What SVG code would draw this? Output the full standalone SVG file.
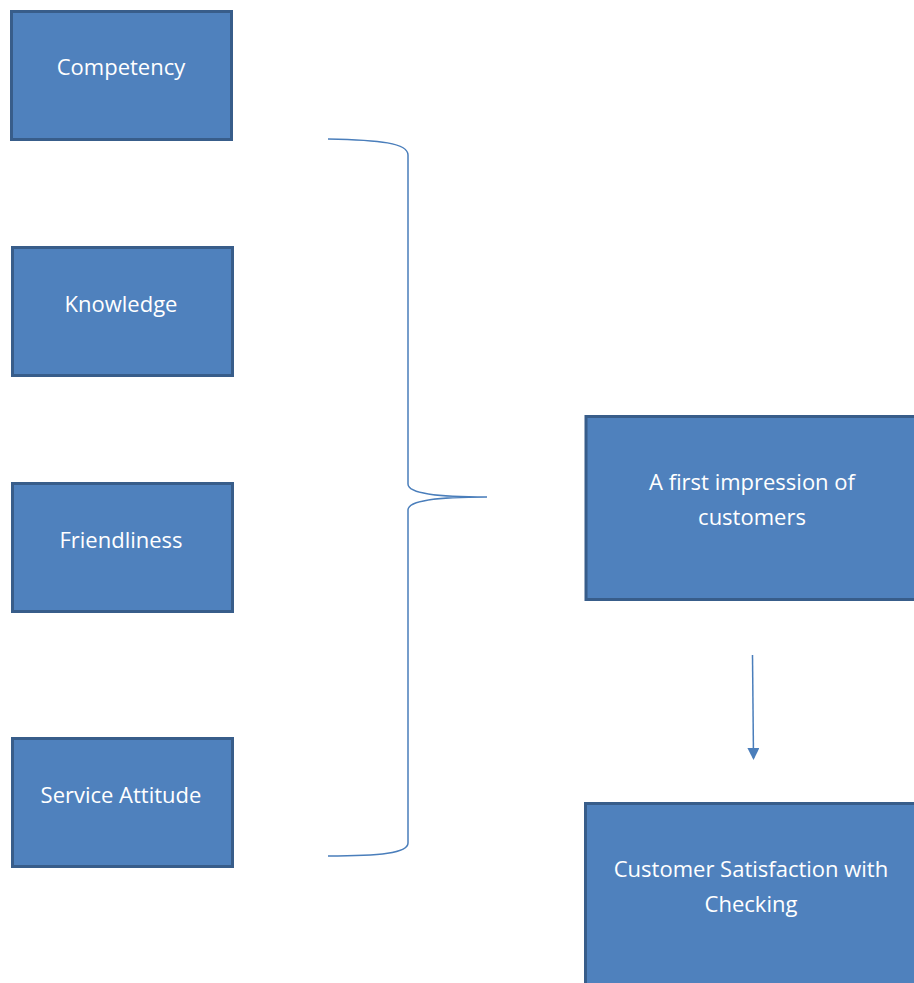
<svg xmlns="http://www.w3.org/2000/svg" width="914" height="983" viewBox="0 0 914 983">
<defs>
<style>
.box{fill:#4f81bd;stroke:#385d8a;stroke-width:3}
.lbl{font-family:"Open Sans","Liberation Sans",sans-serif;font-size:22px;fill:#ffffff;text-anchor:middle}
.con{fill:none;stroke:#4a7ebb;stroke-width:1.5}
</style>
<marker id="ah" markerWidth="12" markerHeight="12" refX="10" refY="6" orient="auto" markerUnits="userSpaceOnUse" viewBox="0 0 12 12">
<path d="M0,0 L12,6 L0,12 Z" fill="#4a7ebb"/>
</marker>
</defs>
<rect width="914" height="983" fill="#ffffff"/>
<g id="competency"><rect class="box" x="11.5" y="11.5" width="220" height="128"/><text class="lbl" x="121" y="75">Competency</text></g>
<g id="knowledge"><rect class="box" x="12.5" y="247.5" width="220" height="128"/><text class="lbl" x="121" y="312">Knowledge</text></g>
<g id="friendliness"><rect class="box" x="12.5" y="483.5" width="220" height="128"/><text class="lbl" x="121" y="548">Friendliness</text></g>
<g id="service-attitude"><rect class="box" x="12.5" y="738.5" width="220" height="128"/><text class="lbl" x="121" y="803">Service Attitude</text></g>
<g id="first-impression"><rect class="box" x="586" y="416.5" width="340" height="183"/><text class="lbl" x="752" y="490">A first impression of</text><text class="lbl" x="752" y="525">customers</text></g>
<g id="customer-satisfaction"><rect class="box" x="585.5" y="803.5" width="340" height="200"/><text class="lbl" x="751" y="877">Customer Satisfaction with</text><text class="lbl" x="751" y="912">Checking</text></g>
<g id="connectors">
<path class="con" d="M328,139 C380,140 408,143 408,155 L408,484 C408,494 440,497 487,497 C440,497 408,500 408,510 L408,843 C408,853 380,856 328,856"/>
<path class="con" d="M752.5,655 L753.5,758" marker-end="url(#ah)"/>
</g>
</svg>
